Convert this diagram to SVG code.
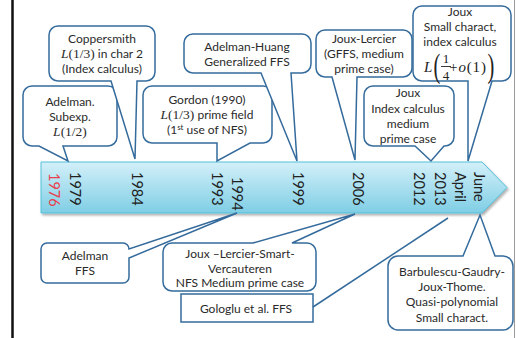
<svg xmlns="http://www.w3.org/2000/svg" width="516" height="338" viewBox="0 0 516 338">
<defs>
<linearGradient id="ag" x1="0" y1="0" x2="0" y2="1">
<stop offset="0" stop-color="#d3f0f9"/>
<stop offset="1" stop-color="#7fcee5"/>
</linearGradient>
<filter id="sh" x="-5%" y="-20%" width="110%" height="150%">
<feDropShadow dx="1.5" dy="2" stdDeviation="1.2" flood-color="#000" flood-opacity="0.3"/>
</filter>
<style>
.co{fill:#fff;stroke:#346b9c;stroke-width:1.5;stroke-linejoin:miter}
.t{font-family:Lato,"Liberation Sans",sans-serif;font-size:12px;fill:#2a2a2a;text-anchor:middle}
.m{font-family:"Liberation Serif",serif;font-size:13.5px}
.i{font-style:italic}
.yr{font-family:Lato,"Liberation Sans",sans-serif;font-size:14.5px;fill:#222}
.ln{fill:none;stroke:#346b9c;stroke-width:1.5}
</style>
</defs>
<rect width="516" height="338" fill="#fff"/>
<line x1="12.5" y1="0" x2="12.5" y2="338" stroke="#111" stroke-width="2.5"/>
<line x1="514.5" y1="0" x2="514.5" y2="338" stroke="#9a9a9a" stroke-width="1"/>

<g id="timeline">
<path d="M41,162 H482 L507,187.5 L482,213 H41 Z" fill="url(#ag)" stroke="#53bfd9" stroke-width="1" filter="url(#sh)"/>
<text class="yr" style="fill:#e8404f" transform="translate(48.8,173) rotate(90)">1976</text>
<text class="yr" transform="translate(69.8,172) rotate(90)">1979</text>
<text class="yr" transform="translate(131.8,172) rotate(90)">1984</text>
<text class="yr" transform="translate(211.8,172) rotate(90)">1993</text>
<text class="yr" transform="translate(231.8,177) rotate(90)">1994</text>
<text class="yr" transform="translate(292.8,172) rotate(90)">1999</text>
<text class="yr" transform="translate(352.8,172) rotate(90)">2006</text>
<text class="yr" transform="translate(413.8,172) rotate(90)">2012</text>
<text class="yr" transform="translate(434.8,172) rotate(90)">2013</text>
<text class="yr" transform="translate(454.8,172) rotate(90)">April</text>
<text class="yr" transform="translate(473.8,172) rotate(90)">June</text>
</g>

<g id="adelman-subexp">
<path class="co" d="M32,86 H108 A9,9 0 0 1 117,95 V137 A9,9 0 0 1 108,146 H63 L68,161 L39,146 H32 A9,9 0 0 1 23,137 V95 A9,9 0 0 1 32,86 Z"/>
<text class="t" x="70" y="106">Adelman.</text>
<text class="t" x="70" y="120.5">Subexp.</text>
<text class="t" x="70" y="135.5"><tspan class="m i">L</tspan><tspan class="m">(1/2)</tspan></text>
</g>

<g id="coppersmith">
<path class="co" d="M58,26 H146 A9,9 0 0 1 155,35 V72 A9,9 0 0 1 146,81 H137 L135,159 L111,81 H58 A9,9 0 0 1 49,72 V35 A9,9 0 0 1 58,26 Z"/>
<text class="t" x="102" y="43">Coppersmith</text>
<text class="t" x="102" y="57.5"><tspan class="m i">L</tspan><tspan class="m">(1/3)</tspan> in char 2</text>
<text class="t" x="102" y="72.5">(Index calculus)</text>
</g>

<g id="gordon">
<path class="co" d="M152,86 H263 A9,9 0 0 1 272,95 V134 A9,9 0 0 1 263,143 H250 L217,161 L217,143 H152 A9,9 0 0 1 143,134 V95 A9,9 0 0 1 152,86 Z"/>
<text class="t" x="207" y="104">Gordon (1990)</text>
<text class="t" x="207" y="118.5"><tspan class="m i">L</tspan><tspan class="m">(1/3)</tspan> prime field</text>
<text class="t" x="207" y="133.5">(1<tspan style="font-size:8px" dy="-4">st</tspan><tspan dy="4"> use of NFS)</tspan></text>
</g>

<g id="adelman-huang">
<path class="co" d="M193,34 H302 A9,9 0 0 1 311,43 V64 A9,9 0 0 1 302,73 H291 L297,161 L261,73 H193 A9,9 0 0 1 184,64 V43 A9,9 0 0 1 193,34 Z"/>
<text class="t" x="247" y="51">Adelman-Huang</text>
<text class="t" x="247" y="66">Generalized FFS</text>
</g>

<g id="joux-lercier">
<path class="co" d="M325,30 H403 A9,9 0 0 1 412,39 V68 A9,9 0 0 1 403,77 H357 L355,160 L332,77 H325 A9,9 0 0 1 316,68 V39 A9,9 0 0 1 325,30 Z"/>
<text class="t" x="364" y="43">Joux-Lercier</text>
<text class="t" x="364" y="58">(GFFS, medium</text>
<text class="t" x="364" y="72.5">prime case)</text>
</g>

<g id="joux-index">
<path class="co" d="M373,86 H445 A9,9 0 0 1 454,95 V137 A9,9 0 0 1 445,146 H444 L431,161 L415,146 H373 A9,9 0 0 1 364,137 V95 A9,9 0 0 1 373,86 Z"/>
<text class="t" x="408" y="97">Joux</text>
<text class="t" x="408" y="113">Index calculus</text>
<text class="t" x="408" y="128">medium</text>
<text class="t" x="408" y="142.5">prime case</text>
</g>

<g id="joux-small">
<path class="co" d="M422,6 H502 A9,9 0 0 1 511,15 V72 A9,9 0 0 1 502,81 H492 L468,161 L468,81 H422 A9,9 0 0 1 413,72 V15 A9,9 0 0 1 422,6 Z"/>
<text class="t" x="460" y="16">Joux</text>
<text class="t" x="460" y="31">Small charact,</text>
<text class="t" x="460" y="46">index calculus</text>
<text class="m i" x="424" y="72" style="font-size:15px" fill="#222">L</text>
<text class="m" transform="translate(433.5,77) scale(0.62,1)" style="font-size:33px" fill="#222">(</text>
<text class="m" x="446" y="63" style="font-size:13px" fill="#222" text-anchor="middle">1</text>
<line x1="441" y1="66.5" x2="451" y2="66.5" stroke="#222" stroke-width="0.9"/>
<text class="m" x="446" y="79.5" style="font-size:13px" fill="#222" text-anchor="middle">4</text>
<text class="m" x="449.5" y="72" style="font-size:14px" fill="#222">+</text>
<text class="m" x="458.5" y="72" style="font-size:15px" fill="#222" letter-spacing="0.8"><tspan class="i">o</tspan>(1)</text>
<text class="m" transform="translate(487.5,77) scale(0.62,1)" style="font-size:33px" fill="#222">)</text>
</g>

<g id="adelman-ffs">
<path class="co" d="M47,243 H123 A6,6 0 0 1 129,249 L237,213 L129,258 V277 A6,6 0 0 1 123,283 H47 A6,6 0 0 1 41,277 V249 A6,6 0 0 1 47,243 Z"/>
<text class="t" x="85" y="260">Adelman</text>
<text class="t" x="85" y="275">FFS</text>
</g>

<g id="jlsv">
<path class="co" d="M172,243 H253 L355,214 L292,243 H307 A9,9 0 0 1 316,252 V282 A9,9 0 0 1 307,291 H172 A9,9 0 0 1 163,282 V252 A9,9 0 0 1 172,243 Z"/>
<text class="t" x="240" y="258">Joux –Lercier-Smart-</text>
<text class="t" x="240" y="272.5">Vercauteren</text>
<text class="t" x="240" y="287">NFS Medium prime case</text>
</g>

<g id="gologlu">
<rect class="co" x="181" y="294" width="132" height="28"/>
<text class="t" x="246" y="313">Gologlu et al. FFS</text>
</g>

<g id="barbulescu">
<path class="co" d="M398,256 H463 L480,215 L495,256 H503 A10,10 0 0 1 513,266 V320 A10,10 0 0 1 503,330 H398 A10,10 0 0 1 388,320 V266 A10,10 0 0 1 398,256 Z"/>
<text class="t" x="452" y="276">Barbulescu-Gaudry-</text>
<text class="t" x="452" y="291">Joux-Thome.</text>
<text class="t" x="452" y="306">Quasi-polynomial</text>
<text class="t" x="452" y="322">Small charact.</text>
</g>

<g id="connectors">
<line class="ln" x1="313" y1="307" x2="448" y2="218"/>
</g>
</svg>
